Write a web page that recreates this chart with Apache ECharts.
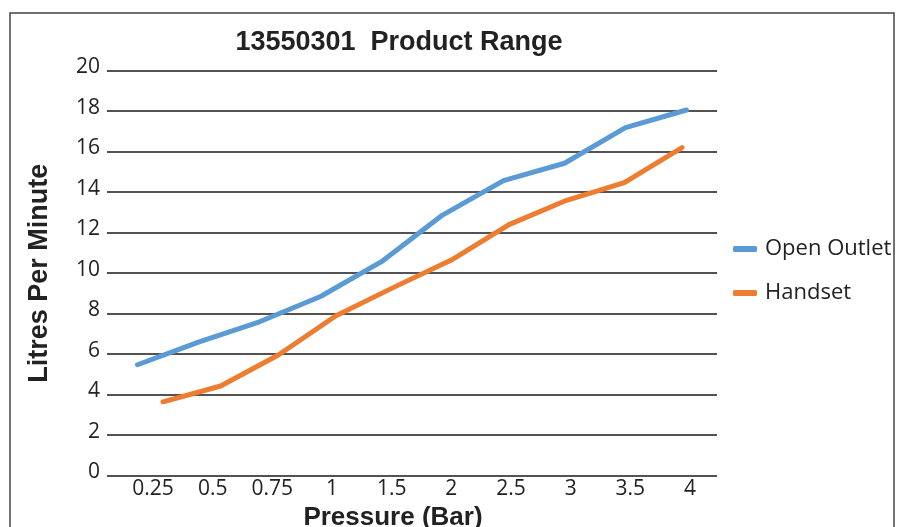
<!DOCTYPE html>
<html>
<head>
<meta charset="utf-8">
<script src="https://cdn.jsdelivr.net/npm/echarts@6/dist/echarts.min.js"></script>
<style>
html,body{margin:0;padding:0;background:#fff;}
#chart{width:898px;height:527px;}
</style>
</head>
<body>
<div id="chart"></div>
<script>
var categories = ['0.25', '0.5', '0.75', '1', '1.5', '2', '2.5', '3', '3.5', '4'];
var openOutlet = [5.48, 6.6, 7.6, 8.85, 10.57, 12.87, 14.57, 15.43, 17.19, 18.06];
var handset = [3.65, 4.43, 5.96, 7.9, 9.3, 10.65, 12.4, 13.6, 14.47, 16.2];
var yTicks = { min: 0, max: 20, interval: 2 };

var chart = echarts.init(document.getElementById('chart'), null, { renderer: 'canvas' });
var labelFont = 'Open Sans';
var boldFont = 'Liberation Sans';
var gridTop = 70.7, gridBottom = 51.3;

var option = {
  backgroundColor: '#ffffff',
  animation: false,
  title: {
    text: '13550301  Product Range',
    left: 399,
    top: 29,
    textAlign: 'center',
    padding: 0,
    textStyle: { fontFamily: boldFont, fontWeight: 'bold', fontSize: 27, color: '#222' }
  },
  legend: {
    orient: 'vertical',
    left: 728,
    top: 233,
    itemGap: 22,
    itemWidth: 24,
    itemHeight: 6,
    icon: 'roundRect',
    data: ['Open Outlet', 'Handset'],
    textStyle: { fontFamily: labelFont, fontSize: 22, color: '#222', padding: [0, 0, 0, 3] }
  },
  graphic: [{
    type: 'rect',
    shape: { x: 10, y: 13, width: 884, height: 540 },
    style: { fill: 'none', stroke: '#444', lineWidth: 1.5 },
    silent: true
  }],
  grid: [
    { left: 107, right: 181, top: gridTop, bottom: gridBottom, containLabel: false, outerBoundsMode: 'none' },
    { left: 163, right: 216, top: gridTop, bottom: gridBottom, containLabel: false, outerBoundsMode: 'none' },
    { left: 153, right: 208, top: gridTop, bottom: gridBottom, containLabel: false, outerBoundsMode: 'none' }
  ],
  xAxis: [
    { type: 'category', gridIndex: 0, data: categories, boundaryGap: true, show: false },
    { type: 'category', gridIndex: 1, data: categories, boundaryGap: false, show: false },
    {
      type: 'category', gridIndex: 2, data: categories, boundaryGap: false,
      axisLine: { show: false }, axisTick: { show: false }, splitLine: { show: false },
      axisLabel: { margin: 3, fontFamily: labelFont, fontSize: 21, color: '#222', interval: 0 },
      name: 'Pressure (Bar)', nameLocation: 'middle', nameGap: 28,
      nameTextStyle: { fontFamily: boldFont, fontWeight: 'bold', fontSize: 26, color: '#222', padding: [0, 57, 0, 0] }
    }
  ],
  yAxis: [
    {
      type: 'value', gridIndex: 0, min: yTicks.min, max: yTicks.max, interval: yTicks.interval,
      axisLine: { show: false }, axisTick: { show: false },
      splitLine: { show: true, lineStyle: { color: '#1a1a1a', width: 1.5 } },
      axisLabel: { margin: 7, fontFamily: labelFont, fontSize: 21, color: '#222', verticalAlign: 'bottom', lineHeight: 7 },
      name: 'Litres Per Minute', nameLocation: 'middle', nameGap: 54, nameRotate: 90,
      nameTextStyle: { fontFamily: boldFont, fontWeight: 'bold', fontSize: 27, color: '#222' }
    },
    { type: 'value', gridIndex: 1, min: yTicks.min, max: yTicks.max, show: false, splitLine: { show: false } },
    { type: 'value', gridIndex: 2, min: yTicks.min, max: yTicks.max, show: false, splitLine: { show: false } }
  ],
  series: [
    {
      name: 'Open Outlet', type: 'line', xAxisIndex: 0, yAxisIndex: 0,
      data: openOutlet, symbol: 'none', color: '#5B9BD5',
      lineStyle: { width: 5, color: '#5B9BD5', cap: 'round', join: 'round' }
    },
    {
      name: 'Handset', type: 'line', xAxisIndex: 1, yAxisIndex: 1,
      data: handset, symbol: 'none', color: '#ED7D31',
      lineStyle: { width: 5, color: '#ED7D31', cap: 'round', join: 'round' }
    }
  ]
};
chart.setOption(option);
</script>
</body>
</html>
